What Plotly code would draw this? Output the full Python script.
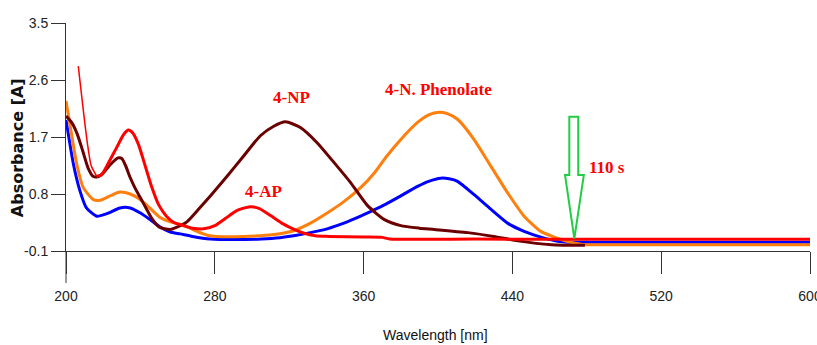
import plotly.graph_objects as go

# ---- data ----
red_nm = [206.6, 209, 211.5, 213.5, 216.5, 219, 223, 227, 231, 233.6, 236, 239, 242, 246, 250, 254, 258,
          263, 268, 274, 280, 286, 292, 299, 304, 310, 316, 322, 328, 334, 341, 360, 370, 374, 420, 480, 540, 600]
red_abs = [2.82, 2.2, 1.6, 1.25, 1.08, 1.1, 1.3, 1.52, 1.74, 1.81, 1.76, 1.58, 1.3, 0.92, 0.62, 0.45, 0.35,
           0.3, 0.26, 0.25, 0.3, 0.42, 0.54, 0.6, 0.57, 0.46, 0.34, 0.25, 0.18, 0.14, 0.13, 0.12, 0.115, 0.09, 0.088, 0.085, 0.085, 0.085]

brown_nm = [200, 203, 206, 209, 212, 214.5, 217, 220, 224, 228, 230, 232, 234.5, 237, 240, 243, 246, 250, 256,
            260, 265, 271, 277.6, 286.6, 295.5, 304.5, 311.7, 318, 326, 335, 344, 353, 362, 371, 380, 390, 398,
            416, 430, 443, 461, 479]
brown_abs = [2.03, 1.93, 1.75, 1.48, 1.2, 1.08, 1.07, 1.13, 1.27, 1.37, 1.36, 1.25, 1.06, 0.9, 0.74, 0.58, 0.42,
             0.28, 0.24, 0.28, 0.36, 0.55, 0.77, 1.08, 1.4, 1.72, 1.87, 1.94, 1.85, 1.61, 1.3, 0.98, 0.62, 0.4,
             0.3, 0.26, 0.24, 0.19, 0.13, 0.06, 0.0, -0.01]

orange_nm = [200, 203, 205.8, 209.3, 214.7, 218.3, 223.7, 229, 234.5, 240, 245, 250.6, 256, 263, 270.4, 276,
             281, 295.5, 311.7, 322.4, 331.4, 340.4, 349.4, 358.4, 366, 372, 380, 389, 395, 400.6, 405, 410.5,
             419.4, 428.4, 437.4, 446.3, 455.3, 462.5, 469.7, 476, 480, 540, 600]
orange_abs = [2.27, 1.74, 1.27, 0.9, 0.71, 0.7, 0.77, 0.83, 0.8, 0.71, 0.58, 0.43, 0.36, 0.31, 0.21, 0.15,
              0.13, 0.13, 0.16, 0.22, 0.34, 0.5, 0.68, 0.9, 1.14, 1.38, 1.66, 1.93, 2.05, 2.09, 2.07, 1.98,
              1.66, 1.24, 0.82, 0.45, 0.21, 0.12, 0.05, 0.01, 0.0, 0.0, 0.0]

blue_nm = [200, 204, 207.5, 211, 216.5, 222, 229, 234.5, 240, 245, 250.6, 256, 261.4, 268, 277.6, 290, 305,
           315, 322.4, 331.4, 340.4, 349.4, 358.4, 365, 372, 380, 389, 395, 401.5, 406, 410.5, 419.4, 428.4,
           437.4, 446.3, 455.3, 464.3, 470, 540, 600]
blue_abs = [1.97, 1.27, 0.85, 0.58, 0.45, 0.49, 0.58, 0.58, 0.5, 0.4, 0.28, 0.2, 0.17, 0.13, 0.09, 0.08, 0.09,
            0.11, 0.14, 0.19, 0.25, 0.34, 0.45, 0.54, 0.64, 0.77, 0.92, 1.0, 1.05, 1.04, 1.0, 0.79, 0.56,
            0.34, 0.21, 0.12, 0.055, 0.04, 0.04, 0.04]

x_ticks = [200, 280, 360, 440, 520, 600]
y_ticks = [-0.1, 0.8, 1.7, 2.6, 3.5]

labels = ["4-NP", "4-AP", "4-N. Phenolate", "110 s"]
label_nm = [321.2, 306.1, 400.4, 490.9]
label_abs = [2.33, 0.845, 2.455, 1.216]

# arrow outline (annotation marker) in data coordinates
arrow_nm = [470.6, 475.4, 475.4, 478.4, 473.3, 468.3, 470.6]
arrow_abs = [2.021, 2.021, 1.099, 1.099, 0.096, 1.099, 1.099]

RED = "#ff0000"
BROWN = "#6b0000"
ORANGE = "#ff7f0e"
BLUE = "#0000ff"
SANS = "Liberation Sans, Arial, sans-serif"
TICKFONT = dict(family=SANS, size=14, color="#222")

fig = go.Figure()
shape_kw = dict(shape="spline", smoothing=0.6)
fig.add_trace(go.Scatter(x=blue_nm, y=blue_abs, mode="lines", line=dict(color=BLUE, width=3, **shape_kw)))
fig.add_trace(go.Scatter(x=orange_nm, y=orange_abs, mode="lines", line=dict(color=ORANGE, width=3, **shape_kw)))
fig.add_trace(go.Scatter(x=brown_nm, y=brown_abs, mode="lines", line=dict(color=BROWN, width=3, **shape_kw)))
fig.add_trace(go.Scatter(x=red_nm[:5], y=red_abs[:5], mode="lines", line=dict(color=RED, width=1.5, **shape_kw)))
fig.add_trace(go.Scatter(x=red_nm[4:], y=red_abs[4:], mode="lines", line=dict(color=RED, width=3, **shape_kw)))

# hollow green arrow
path = "M " + " L ".join(f"{a},{b}" for a, b in zip(arrow_nm, arrow_abs)) + " Z"
fig.add_shape(type="path", path=path, xref="x", yref="y", line=dict(color="#22cc44", width=2),
              fillcolor="white", layer="above")

# y axis extension below the x axis
fig.add_shape(type="line", xref="paper", yref="paper", x0=0, x1=0, y0=0, y1=-0.14,
              line=dict(color="#333", width=1))

for t, xv, yv in zip(labels, label_nm, label_abs):
    fig.add_annotation(x=xv, y=yv, xref="x", yref="y", text=f"<b>{t}</b>", showarrow=False,
                       font=dict(family="Liberation Serif, Times New Roman, serif", size=17, color="#ff0000"))

fig.add_annotation(x=-0.066, y=0.455, xref="paper", yref="paper", xanchor="center", yanchor="middle",
                   text="<b>Absorbance [A]</b>", textangle=-90,
                   showarrow=False, font=dict(family="DejaVu Sans, Verdana, sans-serif", size=16, color="#111"))
fig.add_annotation(x=0.497, y=-0.37, xref="paper", yref="paper", xanchor="center", yanchor="middle",
                   text="Wavelength [nm]", showarrow=False,
                   font=dict(family=SANS, size=14, color="#111"))

fig.update_layout(
    width=817, height=345,
    margin=dict(l=66, r=7, t=23, b=94),
    paper_bgcolor="white", plot_bgcolor="white",
    showlegend=False,
)
fig.update_xaxes(range=[200, 600], tickvals=x_ticks, ticks="outside", ticklen=22, tickcolor="#333",
                 showline=True, linecolor="#333", linewidth=1, showgrid=False, zeroline=False,
                 tickfont=TICKFONT, automargin=False, ticklabeloverflow="allow", ticklabelstandoff=10)
fig.update_yaxes(range=[-0.1, 3.5], tickvals=y_ticks, ticktext=[str(v) for v in y_ticks], ticks="outside",
                 ticklen=14, tickcolor="#333", showline=True, linecolor="#333", linewidth=1, showgrid=False,
                 zeroline=False, tickfont=TICKFONT, automargin=False)

fig.write_html("out.html", config={"displayModeBar": False},
               post_script="document.body.style.margin='0px';")
